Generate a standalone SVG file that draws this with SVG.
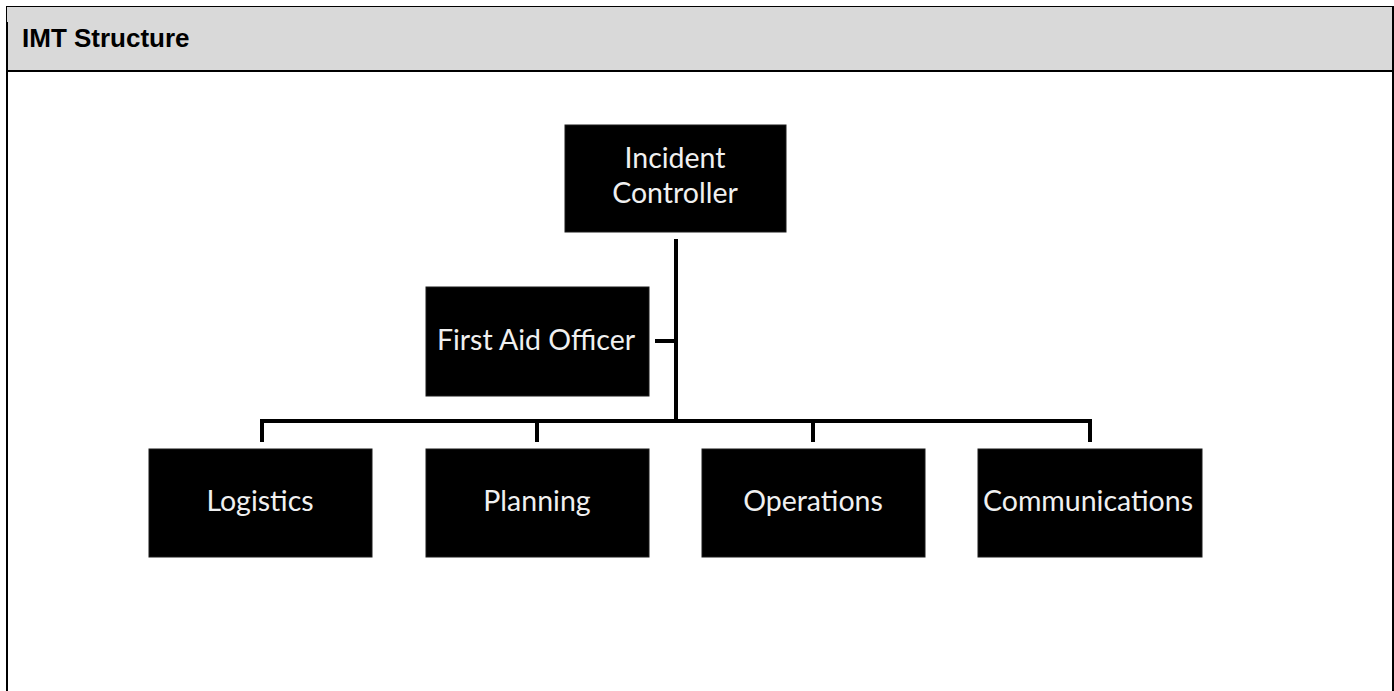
<svg xmlns="http://www.w3.org/2000/svg" width="1394" height="691" viewBox="0 0 1394 691">
<style>
.box{fill:#000;stroke:#1a1a1a;stroke-width:1}
.lbl{font-family:Lato,"Open Sans","Noto Sans",sans-serif;font-size:28.5px;fill:#f0f0f0;text-anchor:middle}
.con{fill:none;stroke:#000;stroke-width:4;stroke-linecap:butt;stroke-linejoin:miter}
.title{font-family:"Liberation Sans",Arial,sans-serif;font-weight:bold;font-size:26px;fill:#000}
</style>
<rect x="0" y="0" width="1394" height="691" fill="#fff"/>
<g id="frame">
<rect x="7" y="6" width="1386" height="65" fill="#d9d9d9"/>
<line x1="6" y1="6.5" x2="1394" y2="6.5" stroke="#000" stroke-width="1"/>
<line x1="6" y1="71" x2="1394" y2="71" stroke="#000" stroke-width="2"/>
<line x1="6.5" y1="6" x2="6.5" y2="22" stroke="#000" stroke-width="1"/>
<line x1="7" y1="22" x2="7" y2="691" stroke="#000" stroke-width="2"/>
<line x1="1393" y1="6" x2="1393" y2="691" stroke="#000" stroke-width="2"/>
<text class="title" x="22" y="47">IMT Structure</text>
</g>
<g id="connectors">
<line class="con" x1="676" y1="239" x2="676" y2="423"/>
<line class="con" x1="655" y1="341" x2="676" y2="341"/>
<path class="con" d="M262,442 V421 H1090 V442"/>
<line class="con" x1="537" y1="421" x2="537" y2="442"/>
<line class="con" x1="813" y1="421" x2="813" y2="442"/>
</g>
<g id="incident-controller">
<rect class="box" x="565" y="125" width="221" height="107"/>
<text class="lbl" x="675" y="168">Incident</text>
<text class="lbl" x="675" y="203">Controller</text>
</g>
<g id="first-aid-officer">
<rect class="box" x="426" y="287" width="223" height="109"/>
<text class="lbl" x="536" y="350">First Aid Officer</text>
</g>
<g id="logistics">
<rect class="box" x="149" y="449" width="223" height="108"/>
<text class="lbl" x="260" y="511">Logistics</text>
</g>
<g id="planning">
<rect class="box" x="426" y="449" width="223" height="108"/>
<text class="lbl" x="537" y="511">Planning</text>
</g>
<g id="operations">
<rect class="box" x="702" y="449" width="223" height="108"/>
<text class="lbl" x="813" y="511">Operations</text>
</g>
<g id="communications">
<rect class="box" x="978" y="449" width="224" height="108"/>
<text class="lbl" x="1088" y="511">Communications</text>
</g>
</svg>
